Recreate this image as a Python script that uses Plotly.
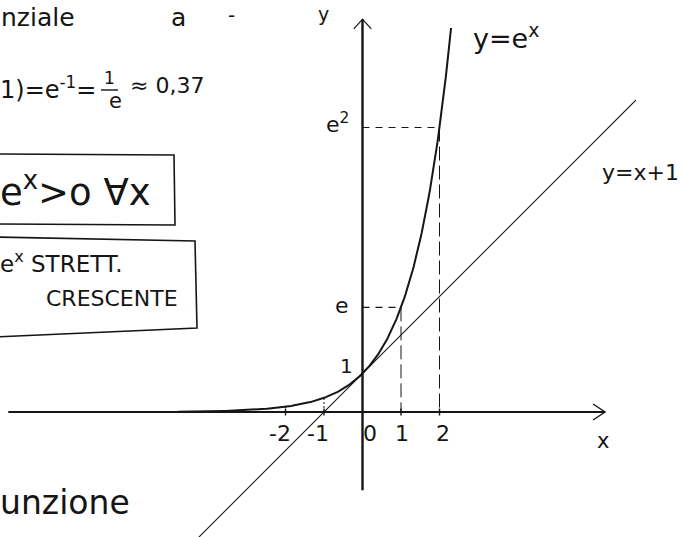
import numpy as np
import plotly.graph_objects as go

W, H = 684, 537

# Tick values on the x axis and their labels
x_ticks = [-2, -1, 0, 1, 2]
x_tick_labels = ["-2", "-1", "0", "1", "2"]

# Marked points on y = e^x
marked_x = [1, 2]
marked_labels = ["e", "e<sup>2</sup>"]

# Domain of the two drawn curves
exp_x_range = [-4.8, 2.3]
tangent_x_range = [-4.4, 7.1]

# Axis extents
x_axis_extent = [-9.2, 6.3]
y_axis_extent = [-2.03, 10.2]

# Pixel scale (same in x and y) and origin position
unit = 38.5
ox, oy = 362.5, 412.0
xr = [-ox / unit, (W - ox) / unit]
yr = [-(H - oy) / unit, oy / unit]

FONT = "DejaVu Sans"
INK = "#151515"

fig = go.Figure()

# y = e^x
xe = np.linspace(exp_x_range[0], exp_x_range[1], 300)
fig.add_trace(go.Scatter(x=xe, y=np.exp(xe), mode="lines",
                         line=dict(color=INK, width=2.0), hoverinfo="skip"))

# tangent y = x + 1
xt = np.array(tangent_x_range)
fig.add_trace(go.Scatter(x=xt, y=xt + 1, mode="lines",
                         line=dict(color=INK, width=1.1), hoverinfo="skip"))

shapes = []
# axes
shapes.append(dict(type="line", xref="x", yref="y", x0=x_axis_extent[0], y0=0,
                   x1=x_axis_extent[1], y1=0, line=dict(color=INK, width=2)))
shapes.append(dict(type="line", xref="x", yref="y", x0=0, y0=y_axis_extent[0],
                   x1=0, y1=y_axis_extent[1], line=dict(color=INK, width=2.4)))

# arrow heads (open chevrons), sized in axis units
ah, aw = 12 / unit, 8 / unit
xa = x_axis_extent[1]
fig.add_trace(go.Scatter(x=[xa - ah, xa, xa - ah], y=[aw, 0, -aw], mode="lines",
                         line=dict(color=INK, width=1.4), hoverinfo="skip"))
ya = y_axis_extent[1]
fig.add_trace(go.Scatter(x=[-aw * 1.1, 0, aw * 1.1], y=[ya - ah * 0.8, ya, ya - ah * 0.8],
                         mode="lines", line=dict(color=INK, width=1.2), hoverinfo="skip"))

# small ticks on the x axis
tk = 3.5 / unit
for t in x_ticks:
    if t != 0:
        shapes.append(dict(type="line", xref="x", yref="y", x0=t, y0=-tk, x1=t, y1=tk,
                           line=dict(color=INK, width=1.4)))

# dashed guides to e and e^2
for mx in marked_x:
    my = float(np.exp(mx))
    shapes.append(dict(type="line", xref="x", yref="y", x0=0, y0=my, x1=mx, y1=my,
                       line=dict(color=INK, width=1.1, dash="7px,6px")))
    shapes.append(dict(type="line", xref="x", yref="y", x0=mx, y0=my, x1=mx, y1=0,
                       line=dict(color=INK, width=1.0, dash="14px,5px")))

# short dotted guides at x = -1 and x = -2
for nx in [-1, -2]:
    shapes.append(dict(type="line", xref="x", yref="y", x0=nx, y0=0, x1=nx,
                       y1=float(np.exp(nx)), line=dict(color=INK, width=1.0, dash="2px,2px")))

# boxes on the left (pixel positions converted to paper)
def px(x):
    return x / W

def py(y):
    return 1 - y / H

shapes.append(dict(type="path", xref="paper", yref="paper",
                   path=f"M {px(-5)},{py(154)} L {px(174)},{py(155)} L {px(175)},{py(225)} L {px(-5)},{py(224)}",
                   line=dict(color=INK, width=1.6)))
shapes.append(dict(type="path", xref="paper", yref="paper",
                   path=f"M {px(-5)},{py(237)} L {px(195)},{py(241)} L {px(197)},{py(328)} L {px(-5)},{py(337)}",
                   line=dict(color=INK, width=1.6)))
# fraction bar of 1/e
shapes.append(dict(type="line", xref="paper", yref="paper", x0=px(101), y0=py(90),
                   x1=px(118), y1=py(90), line=dict(color=INK, width=1.4)))

annotations = []

def txt(s, x, y, size, xanchor="center"):
    annotations.append(dict(text=s, x=px(x), y=py(y), xref="paper", yref="paper",
                            xanchor=xanchor, yanchor="middle", showarrow=False,
                            font=dict(family=FONT, size=size, color=INK)))

# tick labels under the x axis
shifts = {-2: -6, -1: -6, 0: 7, 1: 1, 2: 3}
for t, lab in zip(x_ticks, x_tick_labels):
    annotations.append(dict(text=lab, x=t, y=0, xref="x", yref="y", yshift=-21,
                            xshift=shifts[t], showarrow=False,
                            font=dict(family=FONT, size=22, color=INK)))

# labels of the marked values on the y axis
for mx, lab in zip(marked_x, marked_labels):
    annotations.append(dict(text=lab, x=0, y=float(np.exp(mx)), xref="x", yref="y",
                            xanchor="right", xshift=-12, yshift=5 if mx == 2 else 2,
                            showarrow=False, font=dict(family=FONT, size=22, color=INK)))
annotations.append(dict(text="1", x=0, y=1, xref="x", yref="y", xanchor="right",
                        xshift=-8, yshift=8, showarrow=False,
                        font=dict(family=FONT, size=20, color=INK)))

# axis names and curve names
txt("y", 323, 14, 19)
txt("x", 603, 441, 21)
txt("y=e<sup>x</sup>", 506, 37, 27)
txt("y=x+1", 640, 172, 22)

# notes on the left
txt("nziale", -1, 17, 25, "left")
txt("a", 178, 17, 25)
txt("-", 231, 15, 20)
txt("1)=e<sup>-1</sup>=", -2, 88, 24, "left")
txt("1", 109, 78, 17)
txt("e", 115, 101, 21)
txt("≈ 0,37", 128, 85, 22, "left")
txt("e<sup>x</sup>>o ∀x", -2, 189, 37, "left")
txt("e<sup>x</sup> STRETT.", -2, 262, 23, "left")
txt("CRESCENTE", 112, 298, 22)
txt("unzione", -2, 502, 33, "left")

fig.update_layout(
    width=W, height=H, autosize=False,
    margin=dict(l=0, r=0, t=0, b=0),
    paper_bgcolor="white", plot_bgcolor="white",
    showlegend=False,
    xaxis=dict(range=xr, visible=False, fixedrange=True),
    yaxis=dict(range=yr, visible=False, fixedrange=True),
    shapes=shapes, annotations=annotations,
)

fig.write_html("out.html", config={"displayModeBar": False})
